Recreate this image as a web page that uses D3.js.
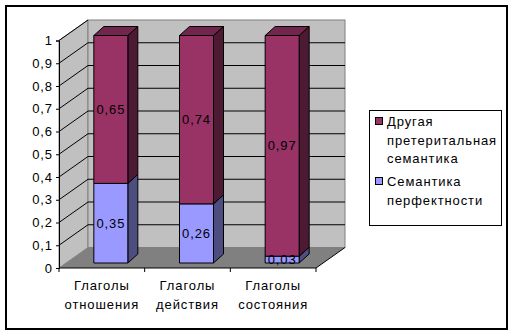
<!DOCTYPE html>
<html>
<head>
<meta charset="utf-8">
<script src="https://cdn.jsdelivr.net/npm/d3@7"></script>
<style>
  body { margin: 0; background: #fff; }
  svg text { font-family: 'Liberation Sans', Arial, sans-serif; font-size: 13px; letter-spacing: 0.9px; fill: #000; }
</style>
</head>
<body>
<svg id="chart" width="516" height="336"></svg>
<script>
// DATA
const categories = [['Глаголы', 'отношения'], ['Глаголы', 'действия'], ['Глаголы', 'состояния']];
const perfectValues = [0.35, 0.26, 0.03];
const otherValues = [0.65, 0.74, 0.97];
const seriesNames = ['Семантика перфектности', 'Другая претеритальная семантика'];
const yTicks = [0, 0.1, 0.2, 0.3, 0.4, 0.5, 0.6, 0.7, 0.8, 0.9, 1];

// SETUP
const svg = d3.select('svg'),
  depth = { dx: 29, dy: -20.5 },
  bar = { w: 34, dx: 10, dy: -9, shiftX: 9, shiftY: -5 },
  colors = [
    { front: '#9999ff', top: '#7373bf', side: '#4d4d80' },
    { front: '#993366', top: '#73264d', side: '#4d1a33' }
  ];

const names = categories.map(d => d.join(' '));
const x = d3.scaleBand().domain(names).range([59, 316]);
const y = d3.scaleLinear().domain([0, 1]).range([268, 40.5]);
const fmt = v => d3.format('.2~f')(v).replace('.', ',');

// OUTER BORDER
svg.append('rect')
  .attr('x', 6).attr('y', 6).attr('width', 501).attr('height', 323)
  .attr('fill', '#fff').attr('stroke', '#000').attr('stroke-width', 2);

// WALLS
const x0 = x.range()[0], x1 = x.range()[1];
svg.append('polygon')
  .attr('points', [[x0, y(0)], [x0 + depth.dx, y(0) + depth.dy], [x0 + depth.dx, y(1) + depth.dy], [x0, y(1)]].join(' '))
  .attr('fill', '#c0c0c0').attr('stroke', '#808080');
svg.append('rect')
  .attr('x', x0 + depth.dx).attr('y', y(1) + depth.dy)
  .attr('width', x1 - x0).attr('height', y(0) - y(1))
  .attr('fill', '#c0c0c0').attr('stroke', '#808080');
svg.append('polygon')
  .attr('points', [[x0, y(0)], [x1, y(0)], [x1 + depth.dx, y(0) + depth.dy], [x0 + depth.dx, y(0) + depth.dy]].join(' '))
  .attr('fill', '#808080');
svg.append('line')
  .attr('x1', x1).attr('y1', y(0)).attr('x2', x1 + depth.dx).attr('y2', y(0) + depth.dy)
  .attr('stroke', '#000');

// GRIDLINES
const grid = svg.append('g').attr('stroke', '#000').attr('fill', 'none');
grid.selectAll('.side').data(yTicks.slice(1)).enter().append('path')
  .attr('d', d => `M${x0},${y(d)}L${x0 + depth.dx},${y(d) + depth.dy}`);
grid.selectAll('.back').data(yTicks.slice(1, -1)).enter().append('path')
  .attr('d', d => `M${x0 + depth.dx},${y(d) + depth.dy}H${x1 + depth.dx}`);

// AXES
svg.append('g')
  .attr('transform', `translate(${x0},0)`)
  .call(d3.axisLeft(y).tickValues(yTicks).tickSize(3).tickFormat(fmt))
  .call(g => g.selectAll('text').attr('x', -6).style('font-size', '13px').style('font-family', null))
  .call(g => g.selectAll('line, path').attr('stroke', '#000'));

svg.append('line')
  .attr('x1', x0).attr('y1', y(0)).attr('x2', x1).attr('y2', y(0)).attr('stroke', '#000');
svg.selectAll('.xtick').data(names.concat(['end'])).enter().append('line')
  .attr('x1', d => d === 'end' ? x1 : x(d)).attr('x2', d => d === 'end' ? x1 : x(d))
  .attr('y1', y(0)).attr('y2', y(0) + 4).attr('stroke', '#000');

const xl = svg.selectAll('.xlabel').data(categories).enter().append('text')
  .attr('text-anchor', 'middle')
  .attr('x', (d, i) => x(names[i]) + x.bandwidth() / 2)
  .attr('y', 290);
xl.selectAll('tspan').data(d => d).enter().append('tspan')
  .attr('x', function () { return this.parentNode.getAttribute('x'); })
  .attr('dy', (d, i) => i ? 19 : 0)
  .text(d => d);

// BARS
const table = names.map((n, i) => ({ name: n, perfect: perfectValues[i], other: otherValues[i] }));
const stacked = d3.stack().keys(['perfect', 'other'])(table);

stacked.forEach((layer, li) => {
  const c = colors[li];
  const g = svg.append('g').attr('stroke', '#000').attr('stroke-linejoin', 'round');
  layer.forEach((seg, i) => {
    const bx0 = x(names[i]) + x.bandwidth() / 2 - bar.w / 2 + bar.shiftX,
      bx1 = bx0 + bar.w,
      yt = y(seg[1]) + bar.shiftY,
      yb = y(seg[0]) + bar.shiftY;
    g.append('polygon')
      .attr('points', [[bx1, yt], [bx1 + bar.dx, yt + bar.dy], [bx1 + bar.dx, yb + bar.dy], [bx1, yb]].join(' '))
      .attr('fill', c.side);
    if (li === stacked.length - 1) {
      g.append('polygon')
        .attr('points', [[bx0, yt], [bx0 + bar.dx, yt + bar.dy], [bx1 + bar.dx, yt + bar.dy], [bx1, yt]].join(' '))
        .attr('fill', c.top);
    }
    g.append('rect')
      .attr('x', bx0).attr('y', yt).attr('width', bar.w).attr('height', yb - yt)
      .attr('fill', c.front);
  });
});

// VALUE LABELS
stacked.forEach(layer => {
  svg.selectAll(null).data(layer).enter().append('text')
    .attr('text-anchor', 'middle')
    .attr('dominant-baseline', 'central')
    .attr('x', (d, i) => x(names[i]) + x.bandwidth() / 2 + bar.shiftX)
    .attr('y', d => (y(d[0]) + y(d[1])) / 2 + bar.shiftY)
    .text(d => fmt(d[1] - d[0]));
});

// LEGEND
const legend = svg.append('g');
legend.append('rect')
  .attr('x', 369.5).attr('y', 110.5).attr('width', 132).attr('height', 115)
  .attr('fill', '#fff').attr('stroke', '#000');
const legendItems = [
  { lines: ['Другая', 'претеритальная', 'семантика'], color: colors[1].front, y: 121 },
  { lines: ['Семантика', 'перфектности'], color: colors[0].front, y: 181 }
];
legendItems.forEach(item => {
  legend.append('rect')
    .attr('x', 375.5).attr('y', item.y - 3.5).attr('width', 7).attr('height', 7)
    .attr('fill', item.color).attr('stroke', '#000');
  const t = legend.append('text').attr('x', 387).attr('y', item.y).attr('dominant-baseline', 'central');
  t.selectAll('tspan').data(item.lines).enter().append('tspan')
    .attr('x', 387).attr('dy', (d, i) => i ? 18.5 : 0)
    .text(d => d);
});
</script>
</body>
</html>
